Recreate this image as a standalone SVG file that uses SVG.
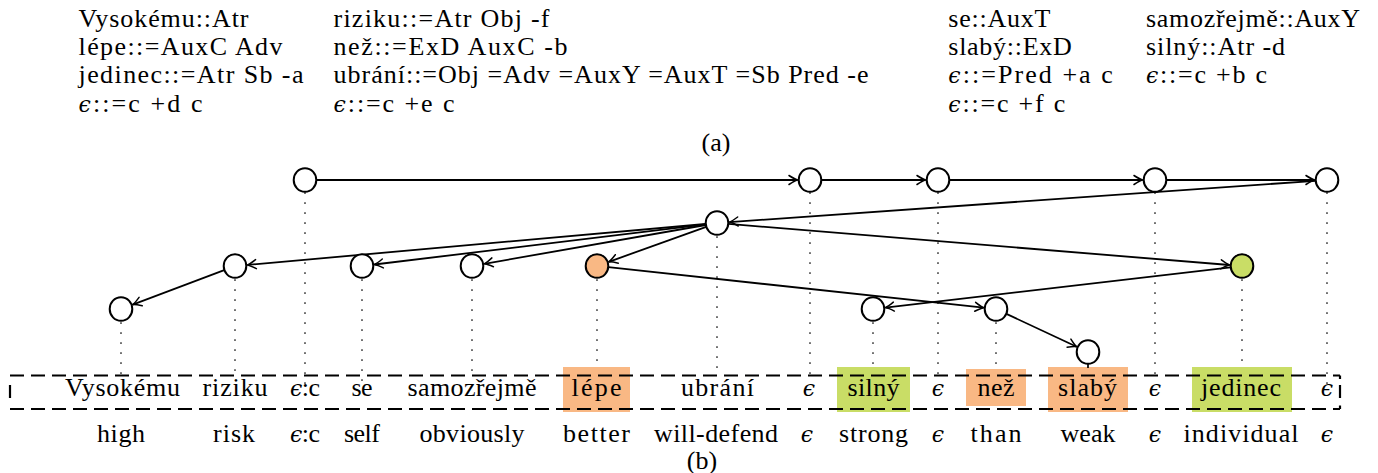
<svg xmlns="http://www.w3.org/2000/svg" width="1378" height="473" viewBox="0 0 1378 473">
  <style>
    text { font-family: "Liberation Serif", "DejaVu Serif", serif; font-size: 26px; fill: #000; }
    .eps { font-style: italic; font-family: "DejaVu Serif", "Liberation Serif", serif; font-size: 22px; }
    .mid { text-anchor: middle; }
    .node { fill: #fff; stroke: #000; stroke-width: 2; }
    .orange { fill: #F9B884; }
    .green { fill: #C9DD66; }
    .edge { fill: none; stroke: #000; stroke-width: 1.8; marker-end: url(#tip); }
    .dots { fill: none; stroke: #000; stroke-width: 1.7; stroke-linecap: round; stroke-dasharray: 0 10; }
    .frame { fill: none; stroke: #000; stroke-width: 2.2; }
  </style>
  <defs>
    <marker id="tip" markerUnits="userSpaceOnUse" markerWidth="14" markerHeight="14" viewBox="-10 -7 14 14" refX="0" refY="0" orient="auto" overflow="visible">
      <path d="M -8.5 -4.5 Q -3 -0.9 0 0 Q -3 0.9 -8.5 4.5" fill="none" stroke="#000" stroke-width="1.5" stroke-linecap="round"/>
    </marker>
  </defs>

  <!-- (a) lexicon entries -->
  <g id="lexicon">
    <text x="78.5" y="26.7" textLength="170" lengthAdjust="spacing">Vysokému::Atr</text>
    <text x="78.5" y="55" textLength="204" lengthAdjust="spacing">lépe::=AuxC Adv</text>
    <text x="78.5" y="83.3" textLength="225" lengthAdjust="spacing">jedinec::=Atr Sb -a</text>
    <text x="78.5" y="111.7" textLength="124" lengthAdjust="spacing"><tspan class="eps">ϵ</tspan>::=c +d c</text>

    <text x="333.5" y="26.7" textLength="216" lengthAdjust="spacing">riziku::=Atr Obj -f</text>
    <text x="333.5" y="55" textLength="234" lengthAdjust="spacing">než::=ExD AuxC -b</text>
    <text x="333.5" y="83.3" textLength="535" lengthAdjust="spacing">ubrání::=Obj =Adv =AuxY =AuxT =Sb Pred -e</text>
    <text x="333.5" y="111.7" textLength="121" lengthAdjust="spacing"><tspan class="eps">ϵ</tspan>::=c +e c</text>

    <text x="948.3" y="26.7" textLength="102" lengthAdjust="spacing">se::AuxT</text>
    <text x="948.3" y="55" textLength="123.5" lengthAdjust="spacing">slabý::ExD</text>
    <text x="948.3" y="83.3" textLength="164.5" lengthAdjust="spacing"><tspan class="eps">ϵ</tspan>::=Pred +a c</text>
    <text x="948.3" y="111.7" textLength="117" lengthAdjust="spacing"><tspan class="eps">ϵ</tspan>::=c +f c</text>

    <text x="1146" y="26.7" textLength="214" lengthAdjust="spacing">samozřejmě::AuxY</text>
    <text x="1146" y="55" textLength="139" lengthAdjust="spacing">silný::Atr -d</text>
    <text x="1146" y="83.3" textLength="121" lengthAdjust="spacing"><tspan class="eps">ϵ</tspan>::=c +b c</text>

    <text class="mid" x="716" y="151" font-size="20">(a)</text>
  </g>

  <!-- word highlights -->
  <g id="highlights">
    <rect class="orange" x="563" y="367" width="67" height="45"/>
    <rect class="green" x="837" y="367" width="73" height="45"/>
    <rect class="orange" x="966" y="369" width="60" height="37"/>
    <rect class="orange" x="1048" y="367" width="80" height="45"/>
    <rect class="green" x="1192" y="367" width="100" height="45"/>
  </g>

  <!-- dashed frame around the sentence -->
  <g id="frame">
    <line class="frame" x1="10" y1="375.5" x2="1340" y2="375.5" stroke-dasharray="14 7"/>
    <line class="frame" x1="10" y1="409" x2="1340" y2="409" stroke-dasharray="14 7"/>
    <line class="frame" x1="10" y1="385" x2="10" y2="398"/>
    <line class="frame" x1="1340" y1="375.5" x2="1340" y2="379"/>
    <line class="frame" x1="1340" y1="385" x2="1340" y2="398"/>
    <line class="frame" x1="1340" y1="405.5" x2="1340" y2="409"/>
  </g>

  <!-- projection lines from nodes to words -->
  <g id="projections">
    <line class="dots" x1="121" y1="323" x2="121" y2="378"/>
    <line class="dots" x1="235" y1="280" x2="235" y2="378"/>
    <line class="dots" x1="305" y1="193" x2="305" y2="384"/>
    <line class="dots" x1="362" y1="280" x2="362" y2="384"/>
    <line class="dots" x1="472" y1="280" x2="472" y2="380"/>
    <line class="dots" x1="597" y1="280" x2="597" y2="370"/>
    <line class="dots" x1="717" y1="237" x2="717" y2="377"/>
    <line class="dots" x1="810" y1="193" x2="810" y2="380"/>
    <line class="dots" x1="873" y1="323" x2="873" y2="370"/>
    <line class="dots" x1="938" y1="193" x2="938" y2="380"/>
    <line class="dots" x1="996" y1="323" x2="996" y2="373"/>
    <line x1="1088" y1="364" x2="1088" y2="368" stroke="#000" stroke-width="1.7"/>
    <line class="dots" x1="1155" y1="193" x2="1155" y2="380"/>
    <line class="dots" x1="1242" y1="280" x2="1242" y2="370"/>
    <line class="dots" x1="1327" y1="193" x2="1327" y2="384"/>
  </g>

  <!-- derivation edges -->
  <g id="connectors">
    <line class="edge" x1="317" y1="180" x2="797.5" y2="180"/>
    <line class="edge" x1="822" y1="180" x2="925.5" y2="180"/>
    <line class="edge" x1="950" y1="180" x2="1142.5" y2="180"/>
    <line class="edge" x1="1167" y1="180" x2="1314.5" y2="180"/>
    <line class="edge" x1="1315.5" y1="180.8" x2="729.5" y2="222.1"/>
    <line class="edge" x1="705.5" y1="224.0" x2="247.5" y2="264.9"/>
    <line class="edge" x1="705.6" y1="224.4" x2="374.4" y2="264.5"/>
    <line class="edge" x1="705.7" y1="225.0" x2="484.3" y2="263.8"/>
    <line class="edge" x1="706.2" y1="226.9" x2="608.8" y2="261.8"/>
    <line class="edge" x1="728.5" y1="223.9" x2="1229.5" y2="265.0"/>
    <line class="edge" x1="224.2" y1="270.1" x2="132.7" y2="304.6"/>
    <line class="edge" x1="608.4" y1="267.2" x2="983.6" y2="307.7"/>
    <line class="edge" x1="1230.6" y1="267.3" x2="885.4" y2="307.6"/>
    <line class="edge" x1="1006.4" y1="313.9" x2="1076.7" y2="346.7"/>
  </g>

  <!-- tree nodes -->
  <g id="n-eps-c"><ellipse class="node" cx="305" cy="180" rx="11.3" ry="11.8"/></g>
  <g id="n-eps-2"><ellipse class="node" cx="810" cy="180" rx="11.3" ry="11.8"/></g>
  <g id="n-eps-3"><ellipse class="node" cx="938" cy="180" rx="11.3" ry="11.8"/></g>
  <g id="n-eps-4"><ellipse class="node" cx="1155" cy="180" rx="11.3" ry="11.8"/></g>
  <g id="n-eps-5"><ellipse class="node" cx="1327" cy="180" rx="11.3" ry="11.8"/></g>
  <g id="n-ubrani"><ellipse class="node" cx="717" cy="223" rx="11.3" ry="11.8"/></g>
  <g id="n-riziku"><ellipse class="node" cx="235" cy="266" rx="11.3" ry="11.8"/></g>
  <g id="n-se"><ellipse class="node" cx="362" cy="266" rx="11.3" ry="11.8"/></g>
  <g id="n-samozrejme"><ellipse class="node" cx="472" cy="266" rx="11.3" ry="11.8"/></g>
  <g id="n-lepe"><ellipse class="node orange" cx="597" cy="266" rx="11.3" ry="11.8"/></g>
  <g id="n-jedinec"><ellipse class="node green" cx="1242" cy="266" rx="11.3" ry="11.8"/></g>
  <g id="n-vysokemu"><ellipse class="node" cx="121" cy="309" rx="11.3" ry="11.8"/></g>
  <g id="n-silny"><ellipse class="node" cx="873" cy="309" rx="11.3" ry="11.8"/></g>
  <g id="n-nez"><ellipse class="node" cx="996" cy="309" rx="11.3" ry="11.8"/></g>
  <g id="n-slaby"><ellipse class="node" cx="1088" cy="352" rx="11.3" ry="11.8"/></g>

  <!-- sentence words -->
  <g id="words">
    <text class="mid" x="122.5" y="396" textLength="115" lengthAdjust="spacing">Vysokému</text>
    <text class="mid" x="235" y="396" textLength="65" lengthAdjust="spacing">riziku</text>
    <text class="mid" x="305" y="396" textLength="30" lengthAdjust="spacing"><tspan class="eps">ϵ</tspan>:c</text>
    <text class="mid" x="362" y="396" textLength="21" lengthAdjust="spacing">se</text>
    <text class="mid" x="472" y="396" textLength="129" lengthAdjust="spacing">samozřejmě</text>
    <text class="mid" x="596.5" y="396" textLength="50" lengthAdjust="spacing">lépe</text>
    <text class="mid" x="717.5" y="396" textLength="73" lengthAdjust="spacing">ubrání</text>
    <text class="mid eps" x="809" y="396">ϵ</text>
    <text class="mid" x="873.5" y="396" textLength="52" lengthAdjust="spacing">silný</text>
    <text class="mid eps" x="938" y="396">ϵ</text>
    <text class="mid" x="996" y="396" textLength="37" lengthAdjust="spacing">než</text>
    <text class="mid" x="1087.5" y="396" textLength="59" lengthAdjust="spacing">slabý</text>
    <text class="mid eps" x="1155" y="396">ϵ</text>
    <text class="mid" x="1241" y="396" textLength="80" lengthAdjust="spacing">jedinec</text>
    <text class="mid eps" x="1327" y="396">ϵ</text>
  </g>

  <!-- English glosses -->
  <g id="glosses">
    <text class="mid" x="121" y="442" textLength="48" lengthAdjust="spacing">high</text>
    <text class="mid" x="234" y="442" textLength="42" lengthAdjust="spacing">risk</text>
    <text class="mid" x="305" y="442" textLength="30" lengthAdjust="spacing"><tspan class="eps">ϵ</tspan>:c</text>
    <text class="mid" x="362" y="442" textLength="36" lengthAdjust="spacing">self</text>
    <text class="mid" x="472" y="442" textLength="105" lengthAdjust="spacing">obviously</text>
    <text class="mid" x="596.5" y="442" textLength="67" lengthAdjust="spacing">better</text>
    <text class="mid" x="716" y="442" textLength="124" lengthAdjust="spacing">will-defend</text>
    <text class="mid eps" x="807" y="442">ϵ</text>
    <text class="mid" x="873.5" y="442" textLength="69" lengthAdjust="spacing">strong</text>
    <text class="mid eps" x="938" y="442">ϵ</text>
    <text class="mid" x="996" y="442" textLength="51" lengthAdjust="spacing">than</text>
    <text class="mid" x="1088" y="442" textLength="55" lengthAdjust="spacing">weak</text>
    <text class="mid eps" x="1155" y="442">ϵ</text>
    <text class="mid" x="1241" y="442" textLength="115" lengthAdjust="spacing">individual</text>
    <text class="mid eps" x="1327" y="442">ϵ</text>
    <text class="mid" x="702" y="469" font-size="17">(b)</text>
  </g>
</svg>
